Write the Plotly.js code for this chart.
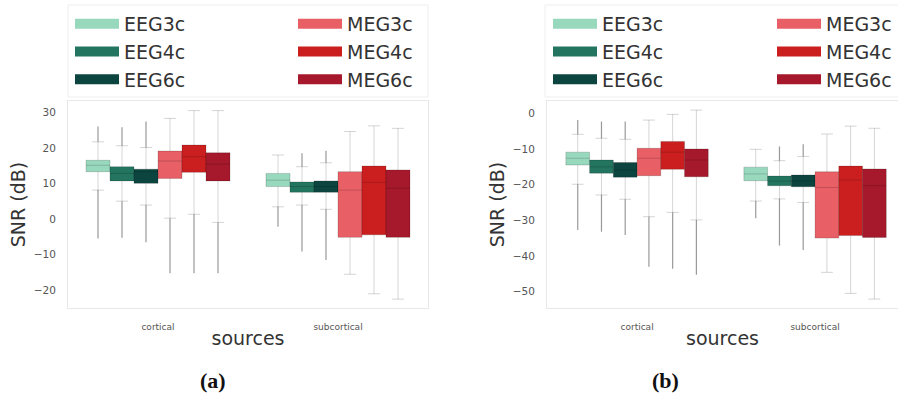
<!DOCTYPE html>
<html>
<head>
<meta charset="utf-8">
<script src="https://cdn.plot.ly/plotly-3.0.1.min.js"></script>
<style>html,body{margin:0;padding:0;background:#fff;}#chart{width:898px;height:399px;}</style>
</head>
<body>
<div id="chart"></div>
<script>
// ---------- data ----------
const categories = ['cortical', 'subcortical'];
const seriesNames = ['EEG3c', 'EEG4c', 'EEG6c', 'MEG3c', 'MEG4c', 'MEG6c'];
const seriesColors = ['#98d9be', '#237560', '#0c4540', '#e85f66', '#cb1f1f', '#a6182b'];

// Panel (a): each row = series, each column = [cortical, subcortical]
const aQ1 = [[13.3, 9.1], [10.7, 7.5], [10.0, 7.5], [11.4, -5.2], [13.1, -4.5], [10.7, -5.2]];
const aMedian = [[15.1, 10.9], [12.8, 9.1], [13.3, 9.1], [16.3, 8.1], [17.5, 10.3], [15.4, 8.6]];
const aQ3 = [[16.5, 12.8], [14.7, 10.4], [14.0, 10.7], [19.1, 13.3], [20.8, 14.9], [18.6, 13.8]];
const aLowerFence = [[8.1, 3.4], [5.0, 3.9], [3.9, 2.7], [0.2, -15.6], [1.3, -21.1], [-1.0, -22.6]];
const aUpperFence = [[21.7, 18.0], [20.6, 14.7], [20.1, 15.8], [28.3, 24.6], [30.5, 26.2], [30.5, 25.5]];
const aOutlierMin = [[-5.5, -2.2], [-5.3, -9.2], [-6.6, -11.6], [-15.3, null], [-15.3, null], [-15.3, null]];
const aOutlierMax = [[26.0, null], [25.8, 18.5], [27.4, 19.2], [null, null], [null, null], [null, null]];

// Panel (b)
const bQ1 = [[-14.5, -18.9], [-16.8, -20.3], [-17.9, -20.6], [-17.5, -35.0], [-15.7, -34.3], [-17.8, -34.8]];
const bMedian = [[-12.6, -17.0], [-15.0, -19.0], [-15.9, -19.0], [-12.6, -20.8], [-10.9, -18.7], [-13.1, -20.3]];
const bQ3 = [[-10.9, -15.1], [-13.1, -17.6], [-13.8, -17.3], [-9.8, -16.4], [-7.9, -14.8], [-10.0, -15.6]];
const bLowerFence = [[-19.9, -24.6], [-22.9, -24.0], [-24.1, -25.0], [-29.0, -44.6], [-27.8, -50.5], [-29.9, -52.1]];
const bUpperFence = [[-5.9, -10.1], [-7.0, -13.3], [-7.3, -12.1], [-1.9, -5.8], [-0.3, -3.6], [0.9, -4.2]];
const bOutlierMin = [[-32.7, -29.4], [-33.2, -37.1], [-34.1, -38.3], [-43.0, null], [-43.6, null], [-45.3, null]];
const bOutlierMax = [[-1.9, null], [-2.3, -9.3], [-2.3, -8.7], [null, null], [null, null], [null, null]];

const captions = ['(a)', '(b)'];

// ---------- build ----------
const W = 898, H = 399;
const groupWidth = 0.8;
const boxW = groupWidth / seriesNames.length;
const traces = [];

function addPanel(xa, ya, q1, med, q3, lf, uf, omin, omax) {
  seriesNames.forEach(function (name, k) {
    const off = (k - (seriesNames.length - 1) / 2) * boxW;
    const xs = categories.map(function (c, i) { return i + off; });
    traces.push({
      type: 'box', name: name, x: xs,
      q1: q1[k], median: med[k], q3: q3[k],
      lowerfence: lf[k], upperfence: uf[k],
      width: boxW, whiskerwidth: 0.5,
      fillcolor: seriesColors[k],
      line: {color: 'rgba(0,0,0,0.17)', width: 1},
      boxpoints: false, showlegend: false, hoverinfo: 'skip',
      xaxis: xa, yaxis: ya
    });
    const ox = [], oy = [];
    categories.forEach(function (c, i) {
      if (omin[k][i] !== null) { ox.push(xs[i], xs[i], null); oy.push(omin[k][i], lf[k][i], null); }
      if (omax[k][i] !== null) { ox.push(xs[i], xs[i], null); oy.push(uf[k][i], omax[k][i], null); }
    });
    traces.push({
      type: 'scatter', mode: 'lines', x: ox, y: oy,
      line: {color: 'rgba(70,70,70,0.55)', width: 1.2},
      showlegend: false, hoverinfo: 'skip', xaxis: xa, yaxis: ya
    });
  });
}
addPanel('x', 'y', aQ1, aMedian, aQ3, aLowerFence, aUpperFence, aOutlierMin, aOutlierMax);
addPanel('x2', 'y2', bQ1, bMedian, bQ3, bLowerFence, bUpperFence, bOutlierMin, bOutlierMax);

// legend entries (one set per panel, two columns each)
const legendIds = [['legend', 'legend2'], ['legend3', 'legend4']];
[0, 1].forEach(function (p) {
  seriesNames.forEach(function (name, k) {
    traces.push({
      type: 'scatter', mode: 'lines', name: name, x: [null], y: [null],
      line: {color: seriesColors[k], width: 10},
      legend: legendIds[p][k < 3 ? 0 : 1], legendgroup: 'g' + p + k,
      hoverinfo: 'skip', xaxis: p ? 'x2' : 'x', yaxis: p ? 'y2' : 'y'
    });
  });
});

const tickFont = {family: 'DejaVu Sans', size: 10.5, color: '#555'};
function xAxis(domain, range) {
  return {
    domain: domain, range: range, tickmode: 'array', tickvals: [0, 1], ticktext: categories,
    ticks: 'outside', ticklen: 10, tickcolor: 'rgba(0,0,0,0)',
    tickfont: {family: 'DejaVu Sans', size: 9, color: '#555'},
    showline: true, mirror: true, linecolor: '#e8e8e8', linewidth: 1,
    showgrid: false, zeroline: false,
    title: {text: 'sources', font: {family: 'DejaVu Sans', size: 19, color: '#333'}, standoff: 0}
  };
}
function yAxis(anchor, range) {
  return {
    anchor: anchor, domain: [1 - 308 / H, 1 - 101 / H], range: range, dtick: 10,
    ticks: 'outside', ticklen: 9, tickcolor: 'rgba(0,0,0,0)', tickfont: tickFont,
    showline: true, mirror: true, linecolor: '#e8e8e8', linewidth: 1,
    showgrid: false, zeroline: false,
    title: {text: 'SNR (dB)', font: {family: 'DejaVu Sans', size: 19, color: '#333'}, standoff: 3}
  };
}
function legendAt(px) {
  return {
    x: px / W, xanchor: 'left', y: 1 - 5 / H, yanchor: 'top', orientation: 'v',
    bgcolor: 'rgba(0,0,0,0)', borderwidth: 0,
    font: {family: 'DejaVu Sans', size: 19, color: '#333'},
    traceorder: 'grouped', tracegroupgap: 0, itemwidth: 44
  };
}

const layout = {
  width: W, height: H, margin: {l: 0, r: 0, t: 0, b: 0},
  paper_bgcolor: '#ffffff', plot_bgcolor: '#ffffff',
  boxmode: 'overlay', showlegend: true,
  xaxis: Object.assign(xAxis([68 / W, 428 / W], [-0.5, 1.5]), {anchor: 'y'}),
  yaxis: yAxis('x', [-25.1, 33.2]),
  xaxis2: Object.assign(xAxis([547 / W, 1], [-0.506, 1.466]), {anchor: 'y2'}),
  yaxis2: yAxis('x2', [-54.6, 3.45]),
  legend: legendAt(70), legend2: legendAt(293),
  legend3: legendAt(548), legend4: legendAt(772),
  shapes: [
    {type: 'rect', xref: 'paper', yref: 'paper', x0: 68 / W, x1: 428 / W, y0: 1 - 97 / H, y1: 1 - 5 / H,
     line: {color: '#eeeeee', width: 1}, fillcolor: 'rgba(0,0,0,0)'},
    {type: 'rect', xref: 'paper', yref: 'paper', x0: 545 / W, x1: 1.02, y0: 1 - 97 / H, y1: 1 - 5 / H,
     line: {color: '#eeeeee', width: 1}, fillcolor: 'rgba(0,0,0,0)'}
  ],
  annotations: captions.map(function (t, i) {
    return {text: '<b>' + t + '</b>', xref: 'paper', yref: 'paper',
      x: (i ? 665 : 213) / W, y: 1 - 380 / H, xanchor: 'center', yanchor: 'middle',
      showarrow: false, font: {family: 'Liberation Serif', size: 22, color: '#111'}};
  })
};

Plotly.newPlot('chart', traces, layout, {staticPlot: true, displayModeBar: false});
</script>
</body>
</html>
